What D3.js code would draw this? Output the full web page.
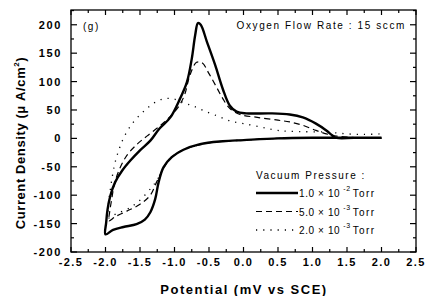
<!DOCTYPE html>
<html><head><meta charset="utf-8">
<script src="https://cdn.jsdelivr.net/npm/d3@7"></script>
<style>
body{margin:0;background:#fff;}
svg{display:block;font-family:"Liberation Sans",Arial,sans-serif;}
</style></head>
<body><svg id="c" width="425" height="296"></svg>
<script>
const xTicks = [-2.5,-2.0,-1.5,-1.0,-0.5,0.0,0.5,1.0,1.5,2.0,2.5];
const yTicks = [-200,-150,-100,-50,0,50,100,150,200];
const seriesLabels = ["1.0 \u00d7 10", "5.0 \u00d7 10", "2.0 \u00d7 10"];
const seriesExp = ["-2", "-3", "-3"];

const solidLoop = [[2.0,1],[1.5,1],[1.0,1],[0.5,0],[0.0,-3],[-0.3,-5],[-0.63,-10],[-0.87,-20],[-1.04,-33],[-1.16,-51],[-1.23,-77],[-1.28,-107],[-1.35,-130],[-1.43,-143],[-1.55,-151],[-1.74,-156],[-1.89,-161],[-2.0,-169],
 [-1.99,-148],[-1.97,-125],[-1.93,-101],[-1.86,-77],[-1.76,-57],[-1.64,-39],[-1.5,-21],[-1.35,-4],[-1.22,17],[-1.06,37],[-0.92,70],[-0.82,99],[-0.75,140],[-0.70,182],[-0.66,203],[-0.62,200],[-0.53,170],[-0.41,129],[-0.3,87],[-0.2,58],[-0.1,47],[0.04,44],[0.4,44],[0.67,42],[0.86,37],[1.05,26],[1.2,14],[1.29,5],[1.35,1],[1.6,1],[2.0,1]];
const dashedLoop = [[2.0,1],[1.5,1],[1.0,1],[0.5,0],[0.0,-3],[-0.5,-8],[-0.87,-20],[-1.04,-33],[-1.12,-45],[-1.18,-57],[-1.26,-77],[-1.35,-100],[-1.5,-116],[-1.69,-128],[-1.86,-138],[-1.95,-145],
 [-1.94,-130],[-1.91,-107],[-1.87,-80],[-1.8,-55],[-1.69,-30],[-1.54,-10],[-1.4,4],[-1.23,20],[-1.11,33],[-0.94,56],[-0.85,78],[-0.78,110],[-0.68,134],[-0.6,133],[-0.5,114],[-0.39,90],[-0.3,70],[-0.2,53],[-0.05,42],[0.2,37],[0.5,32],[0.67,29],[0.86,23],[1.05,14],[1.2,8],[1.35,4],[1.55,2],[1.8,1],[2.0,1]];
const dottedLoop = [[2.0,0],[1.5,0],[1.0,1],[0.5,0],[0.0,-3],[-0.5,-8],[-0.9,-22],[-1.1,-40],[-1.23,-69],[-1.33,-86],[-1.54,-113],[-1.69,-125],[-1.85,-133],[-1.95,-140],
 [-1.96,-120],[-1.93,-90],[-1.9,-66],[-1.86,-42],[-1.8,-18],[-1.72,5],[-1.6,28],[-1.46,46],[-1.3,62],[-1.15,70],[-1.0,69],[-0.85,62],[-0.73,57],[-0.58,49],[-0.39,40],[-0.2,31],[0.0,26],[0.25,20],[0.5,14],[0.8,12],[1.2,11],[1.5,8],[1.75,7],[2.0,8]];

const svg = d3.select("#c");
const L=71, R=416, T=10, B=252;
const x = d3.scaleLinear().domain([-2.5,2.5]).range([L,R]);
const y = d3.scaleLinear().domain([-200,226]).range([B,T]);

const xMinor = d3.range(-2.5,2.5001,0.25);
const yMinor = d3.range(-200,226,25);

svg.append("rect").attr("x",L).attr("y",T).attr("width",R-L).attr("height",B-T)
  .attr("fill","none").attr("stroke","#000").attr("stroke-width",1.3);

const isMajX = v => Math.abs(v*2 - Math.round(v*2))<1e-6;
const isMajY = v => Math.abs(v/50 - Math.round(v/50))<1e-6;
const tg = svg.append("g").attr("stroke","#000").attr("stroke-width",1.2);
xMinor.forEach(v=>{
  const l = isMajX(v)?5:3;
  tg.append("line").attr("x1",x(v)).attr("x2",x(v)).attr("y1",B).attr("y2",B-l);
  tg.append("line").attr("x1",x(v)).attr("x2",x(v)).attr("y1",T).attr("y2",T+l);
});
yMinor.forEach(v=>{
  const l = isMajY(v)?6:3;
  tg.append("line").attr("y1",y(v)).attr("y2",y(v)).attr("x1",L).attr("x2",L+l);
  tg.append("line").attr("y1",y(v)).attr("y2",y(v)).attr("x1",R).attr("x2",R-l);
});

svg.append("g").selectAll("text").data(xTicks).join("text")
  .attr("x",d=>x(d)).attr("y",266).attr("text-anchor","middle")
  .attr("font-size",11).attr("font-weight","bold").attr("letter-spacing",1.4)
  .text(d=>d.toFixed(1));
svg.append("g").selectAll("text").data(yTicks).join("text")
  .attr("x",62).attr("y",d=>y(d)+4).attr("text-anchor","end")
  .attr("font-size",11).attr("font-weight","bold").attr("letter-spacing",1.6)
  .text(d=>d);

svg.append("text").attr("x",244).attr("y",294).attr("text-anchor","middle")
  .attr("font-size",13).attr("font-weight","bold").attr("letter-spacing",1.5)
  .text("Potential (mV vs SCE)");
const yt = svg.append("text").attr("transform","translate(25,143) rotate(-90)")
  .attr("text-anchor","middle").attr("font-size",13).attr("font-weight","bold").attr("letter-spacing",0.6);
yt.append("tspan").text("Current Density (\u03bc A/cm");
yt.append("tspan").attr("font-size",8).attr("dy",-6).text("2");
yt.append("tspan").attr("dy",6).text(")");

const line = d3.line().x(d=>x(d[0])).y(d=>y(d[1])).curve(d3.curveCatmullRom.alpha(0.5));
const g = svg.append("g");
g.append("path").datum(dottedLoop).attr("d",line).attr("fill","none").attr("stroke","#000")
  .attr("stroke-width",1.3).attr("stroke-dasharray","1.2,6");
g.append("path").datum(dashedLoop).attr("d",line).attr("fill","none").attr("stroke","#000")
  .attr("stroke-width",1.2).attr("stroke-dasharray","6,4");
g.append("path").datum(solidLoop).attr("d",line).attr("fill","none").attr("stroke","#000")
  .attr("stroke-width",2.4).attr("stroke-linejoin","round");

svg.append("text").attr("x",83).attr("y",30).attr("font-size",10).attr("letter-spacing",1.5).text("(g)");
svg.append("text").attr("x",406).attr("y",29).attr("text-anchor","end").attr("font-size",10)
  .attr("letter-spacing",1.6).text("Oxygen Flow Rate : 15 sccm");

svg.append("text").attr("x",256).attr("y",179).attr("font-size",10).attr("letter-spacing",1.5).text("Vacuum Pressure :");
const styles = [{w:2.4,da:null},{w:1.2,da:"6,4"},{w:1.3,da:"1.2,6"}];
const rowY = [193,211.5,230];
seriesLabels.forEach((lab,i)=>{
  const ln = svg.append("line").attr("x1",256).attr("x2",298).attr("y1",rowY[i]).attr("y2",rowY[i])
    .attr("stroke","#000").attr("stroke-width",styles[i].w);
  if(styles[i].da) ln.attr("stroke-dasharray",styles[i].da);
  const t = svg.append("text").attr("x",299).attr("y",rowY[i]+4).attr("font-size",10).attr("letter-spacing",0.6);
  t.append("tspan").text(lab);
  t.append("tspan").attr("font-size",7).attr("dy",-6).attr("dx",3).text(seriesExp[i]);
  t.append("tspan").attr("dy",6).attr("dx",2).attr("letter-spacing",1.4).text("Torr");
});
</script></body></html>
